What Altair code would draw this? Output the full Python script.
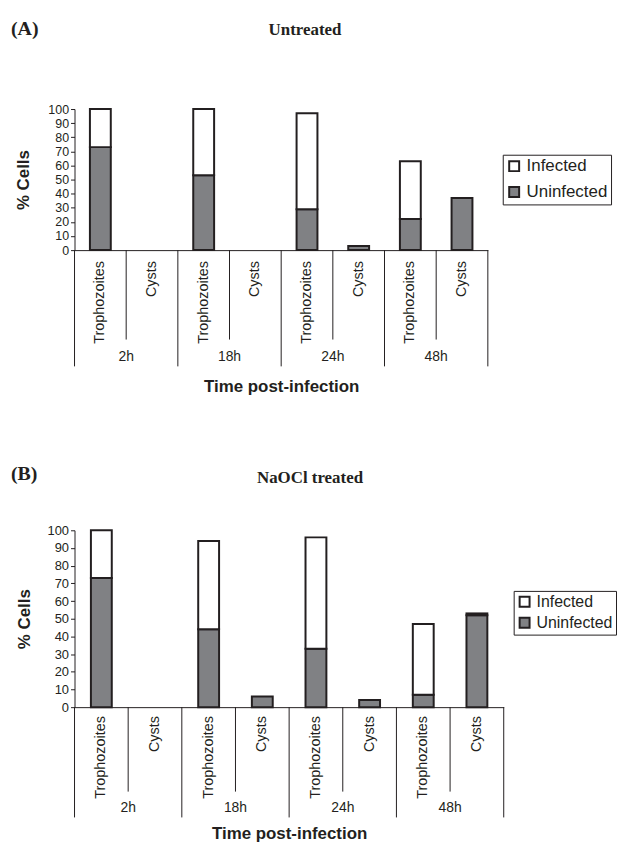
import altair as alt
import pandas as pd

# ---------------- data ----------------
times = ["2h", "18h", "24h", "48h"]
stages = ["Trophozoites", "Cysts"]
statuses = ["Infected", "Uninfected"]
y_ticks = [0, 10, 20, 30, 40, 50, 60, 70, 80, 90, 100]

# order: 2h Troph, 2h Cysts, 18h Troph, 18h Cysts, 24h Troph, 24h Cysts, 48h Troph, 48h Cysts
untreated_uninfected = [73, 0, 53, 0, 29, 3, 22, 37]
untreated_infected = [27, 0, 47, 0, 68, 0, 41, 0]
naocl_uninfected = [73, 0, 44, 6, 33, 4, 7, 52]
naocl_infected = [27, 0, 50, 0, 63, 0, 40, 1]

panel_letters = ["(A)", "(B)"]
panel_titles = ["Untreated", "NaOCl treated"]
x_title = "Time post-infection"
y_title = "% Cells"

DARK = "#231f20"
GRAY = "#808184"
SANS = "Liberation Sans"
SERIF = "Liberation Serif"

keys = [f"{t} {s}" for t in times for s in stages]


def panel(letter, title, uninf, inf, cfg):
    band, h = cfg["band"], cfg["h"]
    w = band * len(keys)
    rows = []
    for i, k in enumerate(keys):
        if uninf[i] > 0:
            rows.append(dict(key=k, status="Uninfected", value=uninf[i], ord=0))
        if inf[i] > 0:
            rows.append(dict(key=k, status="Infected", value=inf[i], ord=1))
    bars_df = pd.DataFrame(rows)
    cat_df = pd.DataFrame({
        "key": keys,
        "stage": [k.split(" ")[1] for k in keys],
        "time": [k.split(" ")[0] for k in keys],
    })
    troph_df = cat_df[cat_df["stage"] == "Trophozoites"]
    cyst_df = cat_df[cat_df["stage"] == "Cysts"]
    last_df = cat_df.tail(1)

    xscale = alt.Scale(domain=keys, paddingInner=0, paddingOuter=0)
    xaxis = alt.Axis(labels=False, ticks=False, grid=False, title=x_title,
                     titleFont=SANS, titleFontSize=17, titleFontWeight="bold",
                     titleColor=DARK, titlePadding=cfg["xtp"],
                     domainColor=DARK, domainWidth=1)

    def X(**kw):
        return alt.X("key:N", scale=xscale, axis=xaxis, sort=keys, **kw)

    bars = alt.Chart(bars_df).mark_bar(width=21, stroke=DARK, strokeWidth=2).encode(
        x=X(),
        y=alt.Y("value:Q", stack="zero",
                scale=alt.Scale(domain=[0, 100], nice=False),
                axis=alt.Axis(values=y_ticks, grid=False, title=y_title,
                              labelFont=SANS, labelFontSize=cfg["lfs"], labelColor=DARK,
                              labelPadding=2, tickSize=4, tickColor=DARK,
                              domainColor=DARK, titleFont=SANS, titleFontSize=17,
                              titleFontWeight="bold", titleColor=DARK,
                              titlePadding=cfg["ytp"])),
        color=alt.Color("status:N",
                        scale=alt.Scale(domain=statuses, range=["white", GRAY]),
                        legend=alt.Legend(title=None, orient="none",
                                          legendX=cfg["lx"], legendY=cfg["ly"],
                                          strokeColor=DARK, fillColor="white",
                                          padding=cfg["lpad"], rowPadding=cfg["lrow"],
                                          symbolType="square", symbolSize=100,
                                          symbolStrokeColor=DARK, symbolStrokeWidth=2,
                                          labelFont=SANS, labelFontSize=cfg["lgfs"],
                                          labelColor=DARK, labelOffset=4)),
        order=alt.Order("ord:Q"),
    )

    stage_text = alt.Chart(cat_df).mark_text(
        angle=270, align="right", baseline="middle", font=SANS,
        fontSize=14.5, color=DARK).encode(
        x=X(), y=alt.value(h + cfg["st"]), text="stage:N")

    tall = alt.Chart(troph_df).mark_rule(color=DARK, strokeWidth=1).encode(
        x=X(bandPosition=0), y=alt.value(h), y2=alt.value(h + cfg["tall"]))
    tall_end = alt.Chart(last_df).mark_rule(color=DARK, strokeWidth=1).encode(
        x=X(bandPosition=1), y=alt.value(h), y2=alt.value(h + cfg["tall"]))
    short = alt.Chart(cyst_df).mark_rule(color=DARK, strokeWidth=1).encode(
        x=X(bandPosition=0), y=alt.value(h), y2=alt.value(h + cfg["short"]))

    time_text = alt.Chart(cyst_df).mark_text(
        align="center", baseline="middle", font=SANS, fontSize=14,
        color=DARK).encode(
        x=X(bandPosition=0), y=alt.value(h + cfg["tt"]), text="time:N")

    head_df = pd.DataFrame({"letter": [letter], "title": [title]})
    letter_text = alt.Chart(head_df).mark_text(
        align="left", baseline="middle", font=SERIF, fontSize=20,
        fontWeight="bold", color=DARK).encode(
        x=alt.value(cfg["letx"]), y=alt.value(cfg["lety"]), text="letter:N")
    title_text = alt.Chart(head_df).mark_text(
        align="center", baseline="middle", font=SERIF, fontSize=17,
        fontWeight="bold", color=DARK).encode(
        x=alt.value(cfg["tx"]), y=alt.value(cfg["ty"]), text="title:N")

    return alt.layer(bars, short, tall, tall_end, stage_text, time_text,
                     letter_text, title_text).properties(width=w, height=h)


cfg_a = dict(band=52, h=142, xtp=129, lfs=12.5, ytp=15, lx=431, ly=46, lpad=3,
             lrow=7, lgfs=17, st=11, tall=117, short=90, tt=108, letx=-64,
             lety=-81, tx=232, ty=-80)
cfg_b = dict(band=54, h=178, xtp=119, lfs=13, ytp=14, lx=442, ly=61, lpad=3,
             lrow=3, lgfs=16, st=9, tall=111, short=85, tt=102, letx=-64,
             lety=-57, tx=237, ty=-53)

pa = panel(panel_letters[0], panel_titles[0], untreated_uninfected, untreated_infected, cfg_a)
pb = panel(panel_letters[1], panel_titles[1], naocl_uninfected, naocl_infected, cfg_b)

chart = alt.vconcat(pa, pb, spacing=70).resolve_scale(
    x="independent", y="independent", color="independent"
).resolve_legend(color="independent").properties(
    padding={"left": 11, "top": 16, "right": 0, "bottom": 0}
).configure_view(stroke=None)

chart.save("out.html", embed_options={"renderer": "svg", "actions": False})
